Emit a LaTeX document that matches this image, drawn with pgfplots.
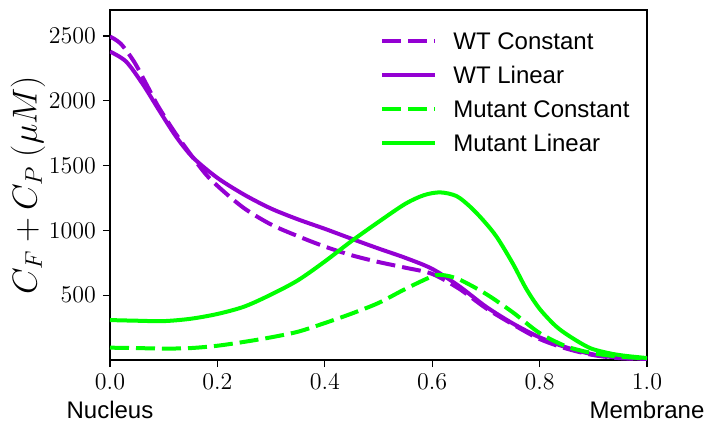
\documentclass[border=0pt]{standalone}
\usepackage{pgfplots}
\pgfplotsset{compat=1.18}
\usepackage{fontspec}
\setmainfont{Liberation Sans}
\definecolor{wtc}{RGB}{148,0,211}
\definecolor{mtc}{RGB}{0,255,0}
\begin{document}
\begin{tikzpicture}
\begin{axis}[
  scale only axis, width=268.5pt, height=175pt,
  at={(0,0)}, anchor=south west,
  xmin=0, xmax=1, ymin=0, ymax=2700,
  xtick={0,0.2,0.4,0.6,0.8,1.0},
  ytick={500,1000,1500,2000,2500},
  xticklabel style={/pgf/number format/.cd, fixed, fixed zerofill, precision=1},
  yticklabel style={/pgf/number format/.cd, fixed, precision=0, set thousands separator={}},
  tick label style={font=\fontsize{12}{14}\selectfont},
  tick align=outside, tick pos=left, major tick length=3.5pt,
  every tick/.style={black, line width=0.6pt},
  axis line style={line width=0.6pt},
  ylabel={$C_F + C_P\ (\mu M)$},
  ylabel style={font=\fontsize{17}{20}\selectfont, at={(axis description cs:-0.1527,0.5)}, anchor=center},
  legend cell align=left,
  legend image code/.code={\draw[#1] (0pt,0pt) -- (26.5pt,0pt); \path (34.5pt,0pt);},
  legend style={draw=none, fill=none, inner sep=0pt, row sep=8.4pt,
    at={(axis description cs:0.5028,0.936)}, anchor=north west,
    nodes={inner sep=0pt, text height=8.6pt, text depth=0pt, font=\fontsize{12}{14}\selectfont}},
  every axis plot/.append style={line width=2pt},
]
\addplot[wtc, smooth, dash pattern=on 9.5pt off 3.5pt] coordinates {
(0,2495) (0.02,2440) (0.045,2300) (0.07,2110) (0.09,1955) (0.125,1730) (0.175,1450) (0.205,1325) (0.25,1170) (0.3,1045) (0.35,955) (0.4,875) (0.45,808) (0.5,756) (0.55,712) (0.6,664) (0.65,550) (0.7,400) (0.75,275) (0.8,162) (0.85,88) (0.9,38) (0.95,14) (1,8)};
\addlegendentry{WT Constant}
\addplot[wtc, smooth] coordinates {
(0,2379) (0.03,2302) (0.062,2122) (0.093,1916) (0.124,1718) (0.155,1560) (0.2,1405) (0.25,1275) (0.3,1168) (0.35,1085) (0.4,1012) (0.45,935) (0.5,860) (0.55,788) (0.6,703) (0.65,570) (0.7,412) (0.75,282) (0.8,175) (0.85,97) (0.9,43) (0.95,17) (1,10)};
\addlegendentry{WT Linear}
\addplot[mtc, smooth, dash pattern=on 9.5pt off 3.5pt] coordinates {
(0,95) (0.05,92) (0.1,88) (0.15,92) (0.2,110) (0.25,140) (0.3,175) (0.35,218) (0.4,285) (0.45,358) (0.5,440) (0.55,548) (0.6,645) (0.62,655) (0.65,622) (0.7,510) (0.75,368) (0.8,208) (0.85,105) (0.9,52) (0.95,26) (1,12)};
\addlegendentry{Mutant Constant}
\addplot[mtc, smooth] coordinates {
(0,308) (0.05,303) (0.1,300) (0.15,318) (0.2,355) (0.25,412) (0.3,505) (0.35,615) (0.4,760) (0.45,918) (0.5,1065) (0.55,1205) (0.585,1272) (0.615,1293) (0.645,1265) (0.67,1185) (0.695,1078) (0.72,950) (0.75,745) (0.775,550) (0.8,395) (0.83,262) (0.857,180) (0.894,92) (0.931,51) (0.96,32) (1,15)};
\addlegendentry{Mutant Linear}
\end{axis}
\node[anchor=base, font=\fontsize{12}{14}\selectfont] at (0pt,-29pt) {Nucleus};
\node[anchor=base, font=\fontsize{12}{14}\selectfont] at (268.5pt,-29pt) {Membrane};
\pgfresetboundingbox
\path (-55pt,-31.5pt) rectangle (298pt,180pt);
\end{tikzpicture}
\end{document}
